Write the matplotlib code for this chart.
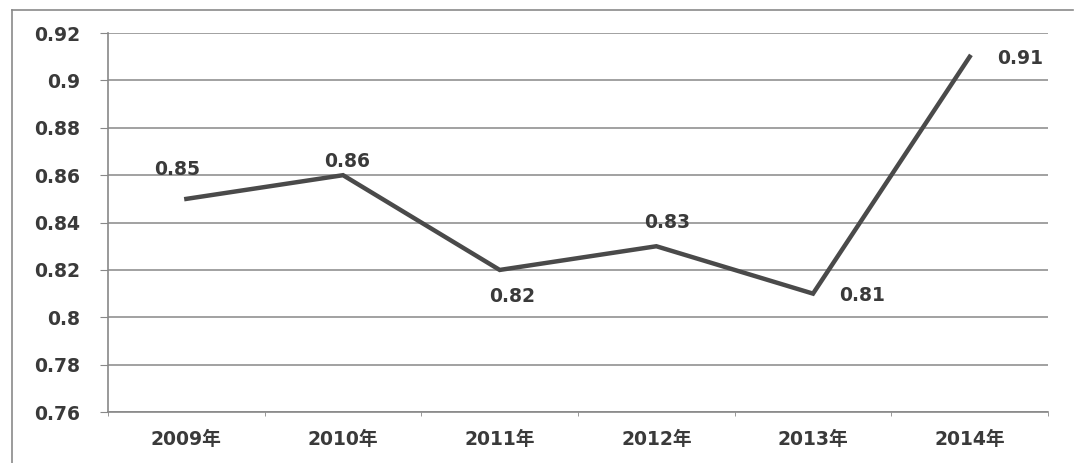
import matplotlib.pyplot as plt
from matplotlib.lines import Line2D

years = ["2009年", "2010年", "2011年", "2012年", "2013年", "2014年"]
values = [0.85, 0.86, 0.82, 0.83, 0.81, 0.91]
yticks = [0.76, 0.78, 0.80, 0.82, 0.84, 0.86, 0.88, 0.90, 0.92]
ytick_labels = ["0.76", "0.78", "0.8", "0.82", "0.84", "0.86", "0.88", "0.9", "0.92"]

# data label offsets from each point, in points (dx, dy)
label_offsets = [(-6.5, 21.5), (3, 9.5), (9, -19), (8, 17), (35, -1.5), (36, -1.5)]

fonts = ["DejaVu Sans", "Noto Sans CJK SC"]
plt.rcParams["font.family"] = fonts
text_color = "#3a3a3a"
fsize = 13.5

fig = plt.figure(figsize=(10.74, 4.63), dpi=100)
ax = fig.add_axes([0.1006, 0.110, 0.8752, 0.8186])

x = list(range(len(years)))
ax.plot(x, values, color="#4a4a4a", linewidth=3.2, solid_joinstyle="miter", zorder=3)

for xi, v, (dx, dy) in zip(x, values, label_offsets):
    ax.annotate(f"{v:g}", (xi, v), xytext=(dx, dy), textcoords="offset points",
                ha="center", va="center", fontsize=fsize, fontweight="bold",
                color=text_color)

ax.set_xlim(-0.5, len(years) - 0.5)
ax.set_ylim(0.76, 0.92)
ax.set_yticks(yticks)
ax.set_yticklabels(ytick_labels, fontweight="bold")
ax.set_xticks(x)
ax.set_xticklabels(years, fontweight="bold")
ax.set_xticks([i + 0.5 for i in range(-1, len(years))], minor=True)

ax.grid(axis="y", color="#9a9a9a", linewidth=1.3)
ax.set_axisbelow(True)
for side in ("top", "right"):
    ax.spines[side].set_visible(False)
for side in ("left", "bottom"):
    ax.spines[side].set_color("#888888")
    ax.spines[side].set_linewidth(1.2)

ax.tick_params(axis="y", length=6, color="#888888", labelsize=fsize,
               labelcolor=text_color, pad=14)
ax.tick_params(axis="x", which="major", length=0, labelsize=fsize,
               labelcolor=text_color, pad=13)
ax.tick_params(axis="x", which="minor", length=3, color="#888888")

# outer chart frame
fig.add_artist(Line2D([12 / 1074, 1073 / 1074], [1 - 10 / 463, 1 - 10 / 463],
                      transform=fig.transFigure, color="#8a8a8a", linewidth=1.2))
fig.add_artist(Line2D([12 / 1074, 12 / 1074], [0, 1 - 10 / 463],
                      transform=fig.transFigure, color="#8a8a8a", linewidth=1.2))

fig.savefig("out.png", dpi=100)
